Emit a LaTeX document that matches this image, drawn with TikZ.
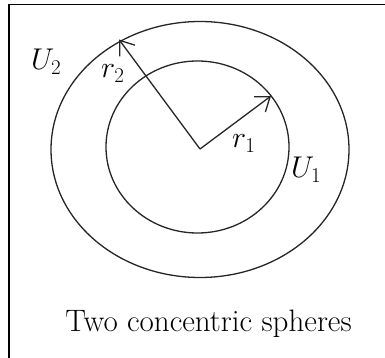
\documentclass[tikz,border=0pt]{standalone}
\usepackage{fix-cm}
\usepackage{fontspec}
\usetikzlibrary{arrows.meta}
\begin{document}
\begin{tikzpicture}[x=1pt,y=-1pt,
  curve/.style={draw=black!85,line width=1.3pt},
  radius arrow/.style={draw=black!85,line width=1.3pt,-{Straight Barb[length=13pt,width=19pt,line width=1.3pt]}},
  mathlabel/.style={inner sep=0pt,anchor=base west,font=\fontsize{30}{36}\selectfont},
  caption/.style={inner sep=0pt,anchor=base,font=\rmfamily\fontsize{31}{37}\selectfont}]
\useasboundingbox (0,0) rectangle (385,358);
\fill[white] (0,0) rectangle (385,358);
% frame
\draw[line width=1.5pt] (9,358) -- (9,4.5) -- (385,4.5);
% spheres
\draw[curve] (200,149.5) ellipse [x radius=149pt, y radius=128pt];
\draw[curve] (197.5,147) ellipse [x radius=91.5pt, y radius=86pt];
% radii
\coordinate (O) at (200,149);
\coordinate (T1) at (271,96);
\coordinate (T2) at (119,39.5);
\draw[radius arrow] (O) -- (T1);
\draw[radius arrow] (O) -- (T2);
% labels
\node[mathlabel] (U2) at (31,70) {$U_2$};
\node[mathlabel] (r2) at (101,78) {$r_2$};
\node[mathlabel] (r1) at (232,148) {$r_1$};
\node[mathlabel] (U1) at (291,178) {$U_1$};
\node[caption] (cap) at (208.5,331) {Two concentric spheres};
\end{tikzpicture}
\end{document}
